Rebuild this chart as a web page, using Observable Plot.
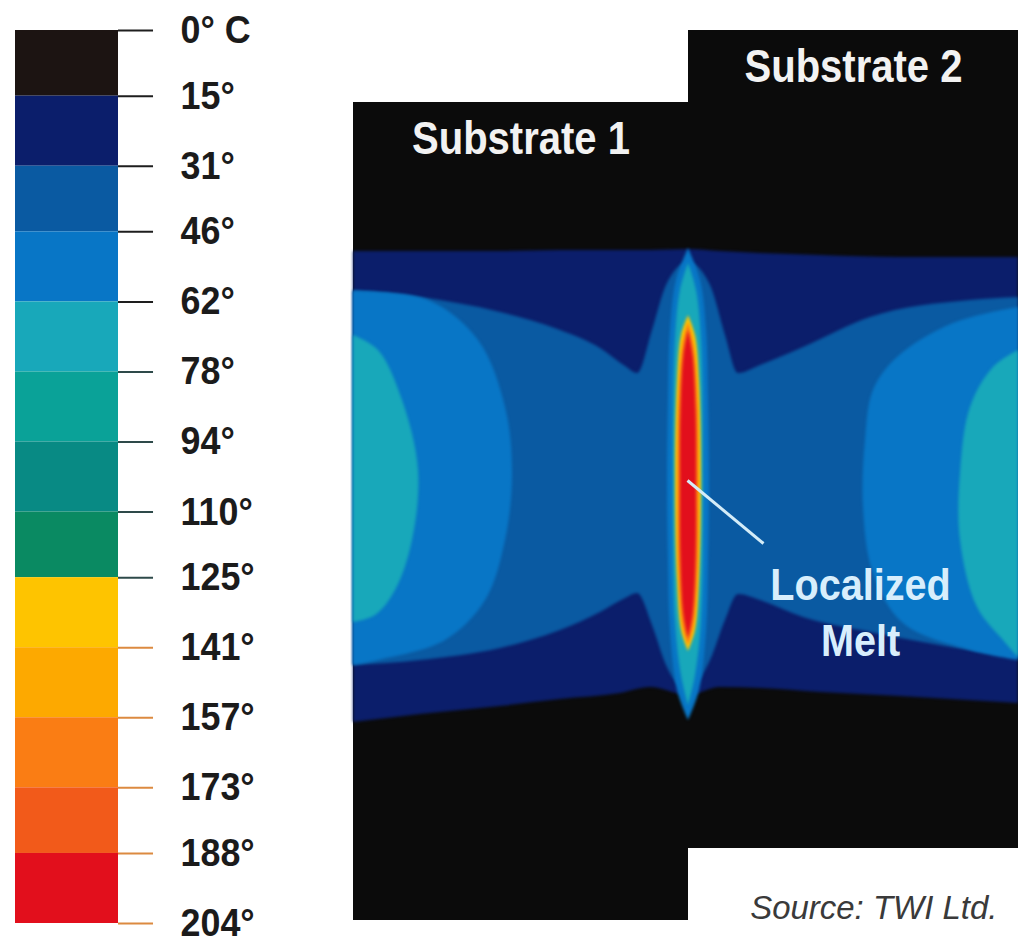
<!DOCTYPE html>
<html>
<head>
<meta charset="utf-8">
<script src="https://cdn.jsdelivr.net/npm/d3@7"></script>
<script src="https://cdn.jsdelivr.net/npm/@observablehq/plot@0.6"></script>
<style>
  html, body { margin: 0; padding: 0; background: #ffffff; }
  #wrap { display: flex; flex-direction: row; width: 1018px; height: 945px; overflow: hidden; }
  #wrap svg { display: block; }
</style>
</head>
<body>
<div id="wrap"></div>
<script>
// ---------- DATA ----------
// Temperature scale (°C) and band colours read from the legend
const tempTicks = [0, 15, 31, 46, 62, 78, 94, 110, 125, 141, 157, 173, 188, 204];
const bandColors = ["#1c1412", "#0b1e6b", "#0a5aa2", "#0876c6", "#18a8ba", "#0aa298",
                    "#088a84", "#0a8a62", "#fec400", "#fda900", "#fa7d14", "#f25a1a", "#e20f1c"];

// Specimen geometry (mm; x = distance from weld interface, y = distance from centre line)
const substrates = [
  {name: "Substrate 1", x1: -33.5, x2: 0,    y1: -44.5, y2: 37.3},
  {name: "Substrate 2", x1: 0,     x2: 33.0, y1: -37.3, y2: 44.5}
];

// Isotherm bands (mm)
const field15 = [ // outer edge of the heated zone (≥15°)
  {x: -33.5, y1: -24.7, y2: 22.4}, {x: -26.8, y1: -23.9, y2: 22.4}, {x: -18.8, y1: -23.1, y2: 22.4},
  {x: -12.8, y1: -22.4, y2: 22.5}, {x: -6.8, y1: -21.8, y2: 22.5}, {x: -3.8, y1: -21.2, y2: 22.5},
  {x: 0, y1: -22.0, y2: 22.6}, {x: 3.2, y1: -21.2, y2: 22.4}, {x: 7.2, y1: -21.3, y2: 22.2},
  {x: 13.2, y1: -21.7, y2: 22.0}, {x: 21.2, y1: -22.1, y2: 21.8}, {x: 33.0, y1: -22.8, y2: 21.8}
];
const field31 = [
  {x: -33.5, y1: -19.0, y2: 18.5}, {x: -26.8, y1: -18.5, y2: 17.8}, {x: -18.8, y1: -17.3, y2: 16.3},
  {x: -12.8, y1: -15.5, y2: 14.5}, {x: -8.8, y1: -13.7, y2: 12.7}, {x: -6.3, y1: -12.3, y2: 10.9},
  {x: -5.1, y1: -11.8, y2: 10.2}, {x: -3.6, y1: -15.0, y2: 14.5}, {x: -2.2, y1: -19.0, y2: 19.0},
  {x: 0, y1: -21.5, y2: 21.3}, {x: 2.2, y1: -18.5, y2: 19.0}, {x: 3.7, y1: -14.5, y2: 14.0},
  {x: 5.0, y1: -11.9, y2: 10.2}, {x: 7.2, y1: -12.5, y2: 11.0}, {x: 11.5, y1: -14.2, y2: 12.8},
  {x: 18.2, y1: -15.7, y2: 15.8}, {x: 28.2, y1: -17.5, y2: 17.5}, {x: 33.0, y1: -18.2, y2: 17.8}
];
const left46 = [
  {y: 18.4, x: -33.5}, {y: 17.5, x: -26.0}, {y: 13.5, x: -21.0}, {y: 6.8, x: -18.3}, {y: 0.2, x: -17.6},
  {y: -6.5, x: -18.3}, {y: -12.5, x: -20.3}, {y: -16.5, x: -24.3}, {y: -18.5, x: -31.0}, {y: -19.0, x: -33.5}
];
const left62 = [
  {y: 14.0, x: -33.5}, {y: 12.5, x: -31.0}, {y: 7.5, x: -28.6}, {y: 0.5, x: -27.0},
  {y: -6.5, x: -27.6}, {y: -11.5, x: -29.3}, {y: -14.0, x: -31.3}, {y: -14.7, x: -33.5}
];
const right46 = [
  {y: 16.8, x: 33.0}, {y: 15.2, x: 26.5}, {y: 11.8, x: 20.9}, {y: 8.5, x: 18.5}, {y: 3.5, x: 17.7},
  {y: -3.2, x: 17.5}, {y: -9.8, x: 18.5}, {y: -14.8, x: 21.5}, {y: -17.5, x: 28.2}, {y: -18.5, x: 33.0}
];
const right62 = [
  {y: 12.5, x: 33.0}, {y: 10.8, x: 30.5}, {y: 6.8, x: 28.2}, {y: 0.2, x: 27.2},
  {y: -6.5, x: 27.2}, {y: -13.2, x: 28.9}, {y: -16.5, x: 31.5}, {y: -18.2, x: 33.0}
];
// Melt zone at the interface: half-widths (mm) along y
const melt46 = [{y: 22.7, w: 0}, {y: 19.5, w: 1.2}, {y: 14.5, w: 1.8}, {y: 7.5, w: 2.0}, {y: -0.5, w: 2.1},
                {y: -8.5, w: 2.0}, {y: -15.5, w: 1.8}, {y: -21.5, w: 1.1}, {y: -24.5, w: 0}];
const melt62 = [{y: 21.2, w: 0}, {y: 18.5, w: 0.8}, {y: 13.5, w: 1.3}, {y: -0.5, w: 1.5},
                {y: -14.5, w: 1.3}, {y: -20.0, w: 0.7}, {y: -23.0, w: 0}];
const melt125 = [{y: 16.0, w: 0}, {y: 14.0, w: 0.7}, {y: 9.5, w: 1.1}, {y: -0.5, w: 1.3},
                 {y: -10.5, w: 1.1}, {y: -15.5, w: 0.7}, {y: -17.6, w: 0}];
const melt157 = [{y: 15.3, w: 0}, {y: 13.0, w: 0.55}, {y: 7.5, w: 0.95}, {y: -0.5, w: 1.05},
                 {y: -9.5, w: 0.95}, {y: -15.0, w: 0.55}, {y: -17.0, w: 0}];
const melt188 = [{y: 14.5, w: 0}, {y: 12.0, w: 0.45}, {y: 6.5, w: 0.75}, {y: -0.5, w: 0.8},
                 {y: -8.5, w: 0.75}, {y: -14.0, w: 0.45}, {y: -16.3, w: 0}];

const meltNote = [{label: "Localized\nMelt", x1: -0.1, y1: -0.5, x2: 7.5, y2: -6.8}];
const caption = ["Source: TWI Ltd."];

// ---------- CHART ----------
const sans = '"Liberation Sans", Arial, Helvetica, sans-serif';
const colorScale = {type: "threshold", domain: tempTicks.slice(1, -1), range: bandColors};
const bands = d3.pairs(tempTicks).map(([lo, hi]) => ({lo, hi}));
const leftEdge = substrates[0].x1, rightEdge = substrates[1].x2;

const legend = Plot.plot({
  width: 340, height: 945,
  marginLeft: 15, marginRight: 222, marginTop: 30, marginBottom: 22,
  x: {domain: [0, 1], axis: null},
  y: {domain: [0, 204], reverse: true},
  color: colorScale,
  style: {fontFamily: sans, fontSize: "39px", fontWeight: "bold", color: "#1b1b1b", background: "transparent"},
  marks: [
    Plot.rect(bands, {x1: () => 0, x2: () => 1, y1: "lo", y2: "hi", fill: "lo"}),
    Plot.ruleY(tempTicks, {y: d => d, x1: () => 1, x2: () => 1.34, strokeWidth: 2,
      stroke: d => d >= 141 ? "#dc8a40" : (d >= 78 ? "#2e4a4a" : "#1e1e1e")}),
    Plot.axisY({ticks: tempTicks, anchor: "right", tickSize: 0, tickPadding: 62, label: null,
      tickFormat: d => d === 0 ? "0° C" : d + "°", fill: "#1b1b1b"})
  ]
});

const tempFill = t => () => t;
const main = Plot.plot({
  width: 678, height: 945,
  margin: 0,
  x: {domain: [-34.8, 33.0], axis: null},
  y: {domain: [-47, 47.5], axis: null},
  color: colorScale,
  style: {background: "transparent"},
  marks: [
    Plot.rect(substrates, {x1: "x1", x2: "x2", y1: "y1", y2: "y2", fill: "#0b0b0b"}),
    Plot.areaY(field15, {x: "x", y1: "y1", y2: "y2", fill: tempFill(15), curve: "monotone-x"}),
    Plot.areaY(field31, {x: "x", y1: "y1", y2: "y2", fill: tempFill(31), curve: "monotone-x"}),
    Plot.areaX(left46, {y: "y", x1: () => leftEdge, x2: "x", fill: tempFill(46), curve: "catmull-rom"}),
    Plot.areaX(right46, {y: "y", x1: "x", x2: () => rightEdge, fill: tempFill(46), curve: "catmull-rom"}),
    Plot.areaX(left62, {y: "y", x1: () => leftEdge, x2: "x", fill: tempFill(62), curve: "catmull-rom"}),
    Plot.areaX(right62, {y: "y", x1: "x", x2: () => rightEdge, fill: tempFill(62), curve: "catmull-rom"}),
    Plot.areaX(melt46, {y: "y", x1: d => -d.w, x2: d => d.w, fill: tempFill(46), curve: "catmull-rom"}),
    Plot.areaX(melt62, {y: "y", x1: d => -d.w, x2: d => d.w, fill: tempFill(62), curve: "catmull-rom"}),
    Plot.areaX(melt125, {y: "y", x1: d => -d.w, x2: d => d.w, fill: tempFill(125), curve: "catmull-rom"}),
    Plot.areaX(melt157, {y: "y", x1: d => -d.w, x2: d => d.w, fill: tempFill(157), curve: "catmull-rom"}),
    Plot.areaX(melt188, {y: "y", x1: d => -d.w, x2: d => d.w, fill: tempFill(188), curve: "catmull-rom"}),
    Plot.link(meltNote, {x1: "x1", y1: "y1", x2: "x2", y2: "y2", stroke: "#d4ecf8", strokeWidth: 3}),
    Plot.text(meltNote, {x: "x2", y: "y2", text: "label", dx: 97, dy: 17, lineAnchor: "top", lineHeight: 1.244,
      textAnchor: "middle", fill: "#d8eefc", fontSize: 45, fontWeight: "bold", fontFamily: sans}),
    Plot.text(substrates, {x: d => (d.x1 + d.x2) / 2, y: "y2", text: "name", dy: 51, lineAnchor: "bottom",
      textAnchor: "middle", fill: "#f2f2f2", fontSize: 46, fontWeight: "bold", fontFamily: sans}),
    Plot.text(caption, {text: d => d, frameAnchor: "bottom-right", dx: -21, dy: -27, lineAnchor: "bottom",
      textAnchor: "end", fill: "#3a3a3a", fontSize: 34, fontStyle: "italic", fontFamily: sans})
  ]
});

// soften isotherm edges like the thermal image
d3.select(main).selectAll('g[aria-label="area"]').style("filter", "blur(1.8px)");

// condensed lettering (the original uses a condensed face): squeeze text horizontally about its anchor
function squeeze(sel, k) {
  sel.each(function () {
    const t = this.getAttribute("transform") || "";
    this.setAttribute("transform", t + ` scale(${k},1)`);
  });
}
squeeze(d3.select(legend).selectAll("text"), 0.92);
const textGroups = d3.select(main).selectAll('g[aria-label="text"]').nodes();
squeeze(d3.select(textGroups[0]).selectAll("text"), 0.88);
squeeze(d3.select(textGroups[1]).selectAll("text"), 0.87);
squeeze(d3.select(textGroups[2]).selectAll("text"), 0.97);

const wrap = document.getElementById("wrap");
wrap.appendChild(legend);
wrap.appendChild(main);
</script>
</body>
</html>
